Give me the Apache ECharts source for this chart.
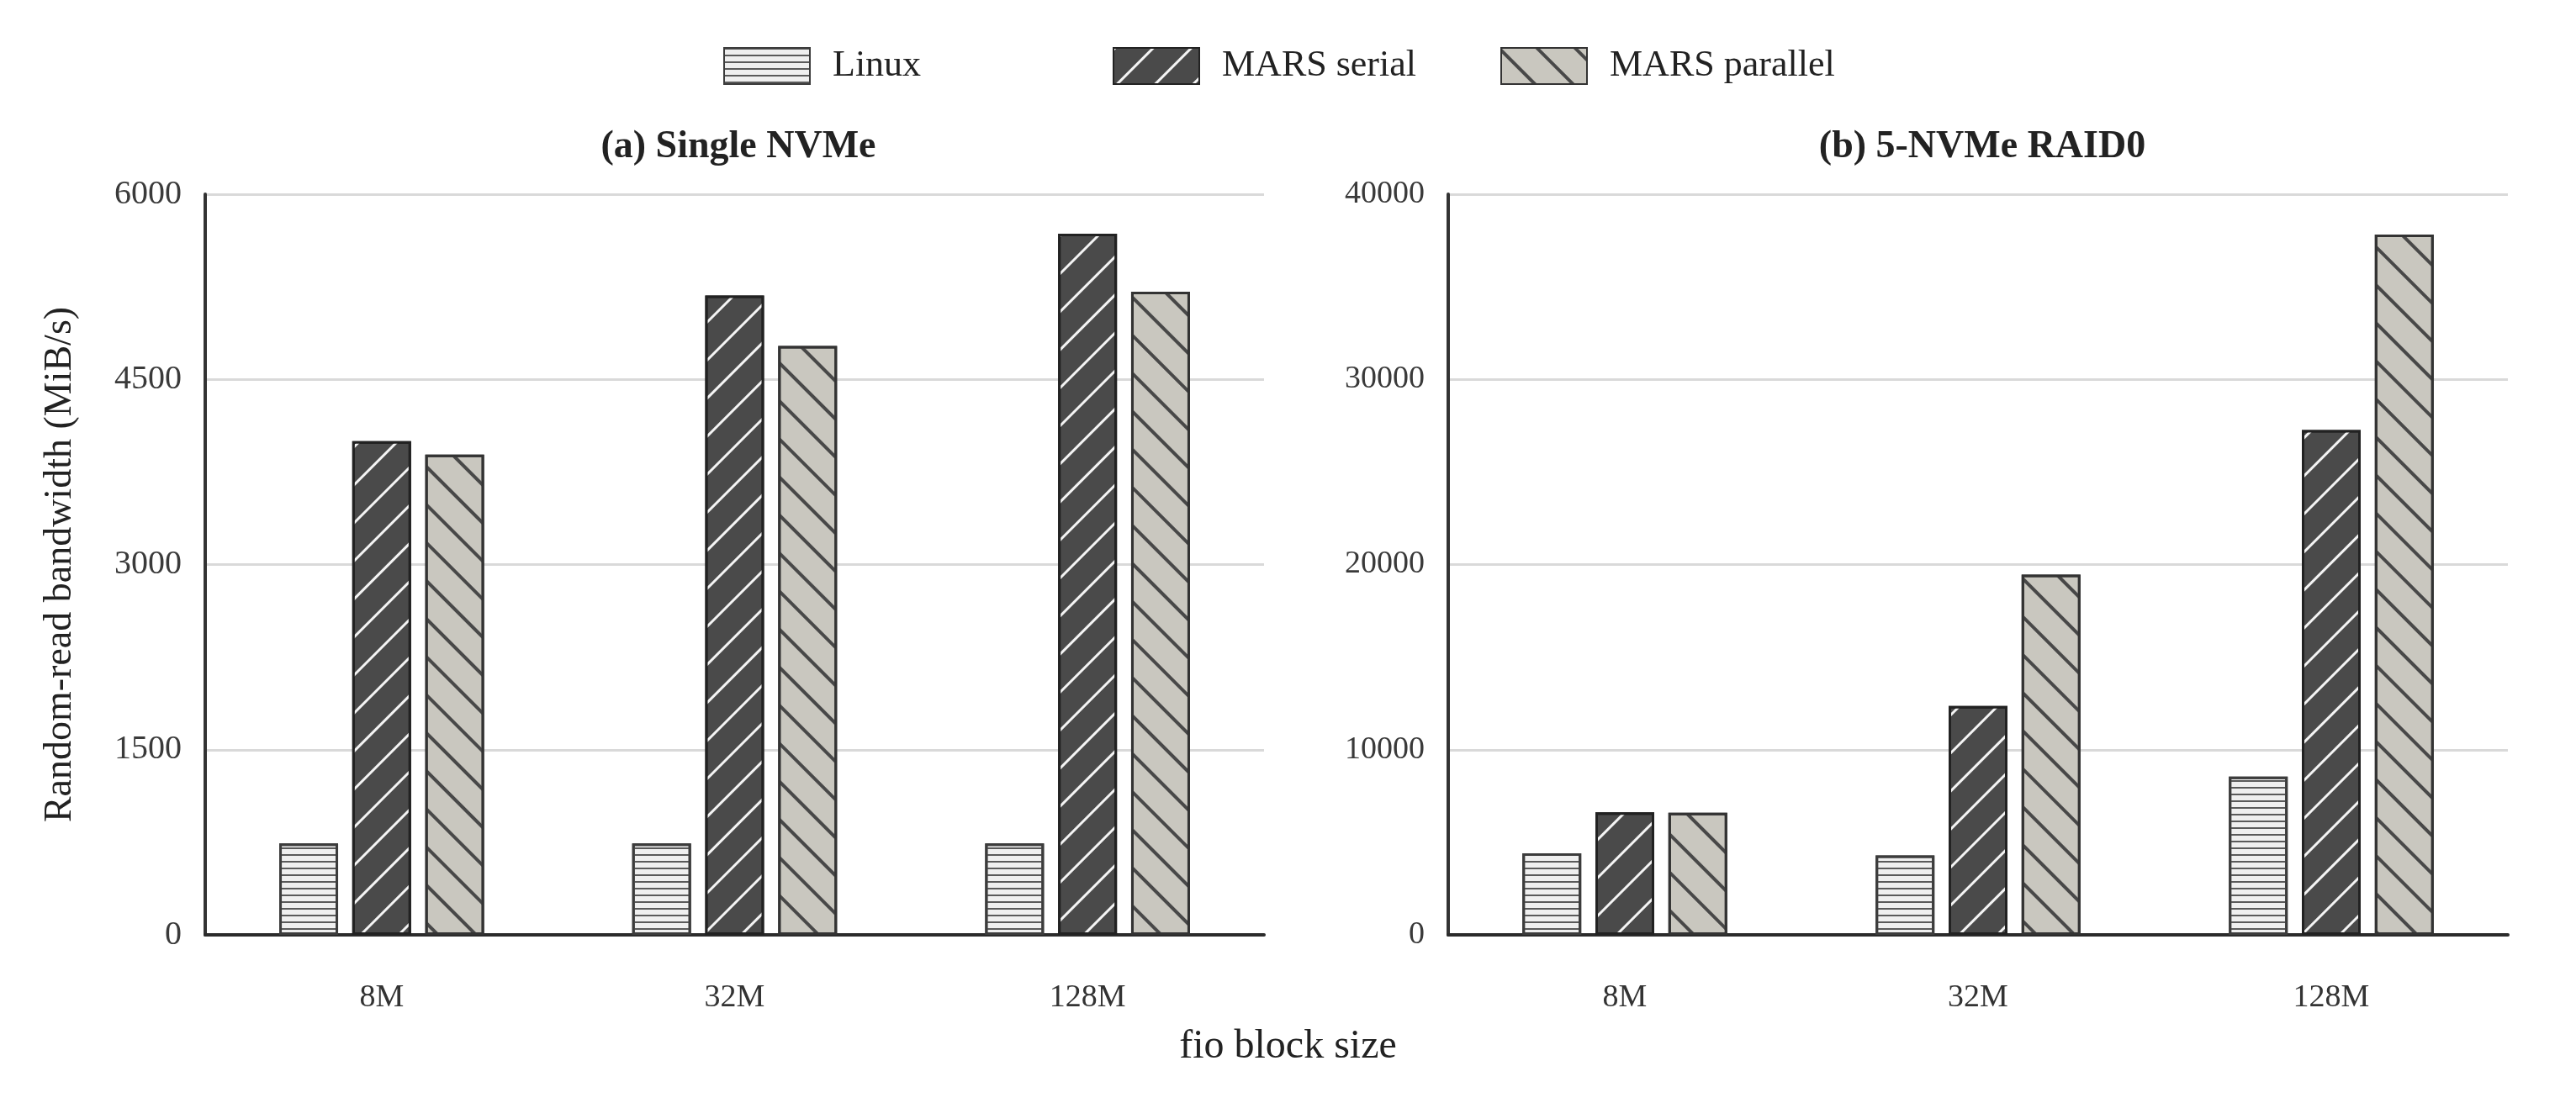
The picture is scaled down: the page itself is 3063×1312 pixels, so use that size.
<!DOCTYPE html>
<html>
<head>
<meta charset="utf-8">
<title>fio random-read bandwidth</title>
<script src="https://cdn.jsdelivr.net/npm/echarts@6/dist/echarts.min.js"></script>
<style>
  html, body { margin: 0; padding: 0; background: #fff; }
  #chart { width: 3063px; height: 1312px; }
</style>
</head>
<body>
<div id="chart"></div>
<script>
var categories = ['8M', '32M', '128M'];
var seriesNames = ['Linux', 'MARS serial', 'MARS parallel'];

// (a) Single NVMe
var singleLinux = [740, 740, 740];
var singleSerial = [4000, 5180, 5680];
var singleParallel = [3890, 4770, 5210];

// (b) 5-NVMe RAID0
var raidLinux = [4400, 4290, 8550];
var raidSerial = [6620, 12360, 27260];
var raidParallel = [6600, 19460, 37820];

var singleTicks = { min: 0, max: 6000, interval: 1500 };
var raidTicks = { min: 0, max: 40000, interval: 10000 };

var FONT = 'Liberation Serif';

var chart = echarts.init(document.getElementById('chart'));

// fill / hatch style per series
var styles = [
  {
    color: '#efefef', borderColor: '#3c3c3c', borderWidth: 3,
    decal: { symbol: 'rect', color: '#5a5a5a', dashArrayX: [1, 0], dashArrayY: [2, 6], rotation: 0 }
  },
  {
    color: '#4a4a4a', borderColor: '#222222', borderWidth: 3,
    decal: { symbol: 'rect', color: '#f4f4f4', dashArrayX: [1, 0], dashArrayY: [3, 29], rotation: -Math.PI / 4 }
  },
  {
    color: '#c9c7bf', borderColor: '#333333', borderWidth: 3,
    decal: { symbol: 'rect', color: '#484848', dashArrayX: [1, 0], dashArrayY: [4, 28], rotation: Math.PI / 4 }
  }
];

function makeSeries(name, idx, data, axisIndex) {
  return {
    name: name,
    type: 'bar',
    xAxisIndex: axisIndex,
    yAxisIndex: axisIndex,
    barWidth: 70,
    barGap: '24%',
    itemStyle: styles[idx],
    emphasis: { disabled: true },
    data: data
  };
}

function makeLegend(name, left) {
  return {
    data: [name],
    left: left,
    top: 51,
    icon: 'rect',
    itemWidth: 102,
    itemHeight: 43,
    selectedMode: false,
    textStyle: { fontFamily: FONT, fontSize: 44, color: '#222', padding: [0, 0, 0, 22] }
  };
}

function makeYAxis(idx, ticks, labelSize, extra) {
  var axis = {
    type: 'value',
    gridIndex: idx,
    min: ticks.min,
    max: ticks.max,
    interval: ticks.interval,
    axisLine: { show: true, lineStyle: { color: '#333', width: 4 } },
    axisTick: { show: false },
    axisLabel: {
      fontFamily: FONT, fontSize: labelSize, color: '#3a3a3a', margin: 28,
      formatter: function (v) { return String(v); }
    },
    splitLine: { lineStyle: { color: '#d9d9d9', width: 3 } }
  };
  return Object.assign(axis, extra || {});
}

function makeXAxis(idx) {
  return {
    type: 'category',
    gridIndex: idx,
    data: categories,
    axisLine: { lineStyle: { color: '#2b2b2b', width: 4 } },
    axisTick: { show: false },
    axisLabel: { fontFamily: FONT, fontSize: 38, color: '#333', margin: 56 }
  };
}

var option = {
  backgroundColor: '#fff',
  animation: false,
  title: [
    {
      text: '(a) Single NVMe', left: 873, top: 147, textAlign: 'center',
      textStyle: { fontFamily: FONT, fontSize: 46, fontWeight: 'bold', color: '#222' }
    },
    {
      text: '(b) 5-NVMe RAID0', left: 2352, top: 147, textAlign: 'center',
      textStyle: { fontFamily: FONT, fontSize: 46, fontWeight: 'bold', color: '#222' }
    },
    {
      text: 'fio block size', left: 'center', top: 1216,
      textStyle: { fontFamily: FONT, fontSize: 48, fontWeight: 'normal', color: '#222' }
    }
  ],
  legend: [
    makeLegend(seriesNames[0], 855),
    makeLegend(seriesNames[1], 1318),
    makeLegend(seriesNames[2], 1779)
  ],
  grid: [
    { left: 244, top: 231, width: 1259, height: 881 },
    { left: 1722, top: 231, width: 1260, height: 881 }
  ],
  xAxis: [makeXAxis(0), makeXAxis(1)],
  yAxis: [
    makeYAxis(0, singleTicks, 40, {
      name: 'Random-read bandwidth (MiB/s)',
      nameLocation: 'middle',
      nameRotate: 90,
      nameGap: 149,
      nameTextStyle: { fontFamily: FONT, fontSize: 46, color: '#222' }
    }),
    makeYAxis(1, raidTicks, 38)
  ],
  series: [
    makeSeries(seriesNames[0], 0, singleLinux, 0),
    makeSeries(seriesNames[1], 1, singleSerial, 0),
    makeSeries(seriesNames[2], 2, singleParallel, 0),
    makeSeries(seriesNames[0], 0, raidLinux, 1),
    makeSeries(seriesNames[1], 1, raidSerial, 1),
    makeSeries(seriesNames[2], 2, raidParallel, 1)
  ]
};

chart.setOption(option);
</script>
</body>
</html>
